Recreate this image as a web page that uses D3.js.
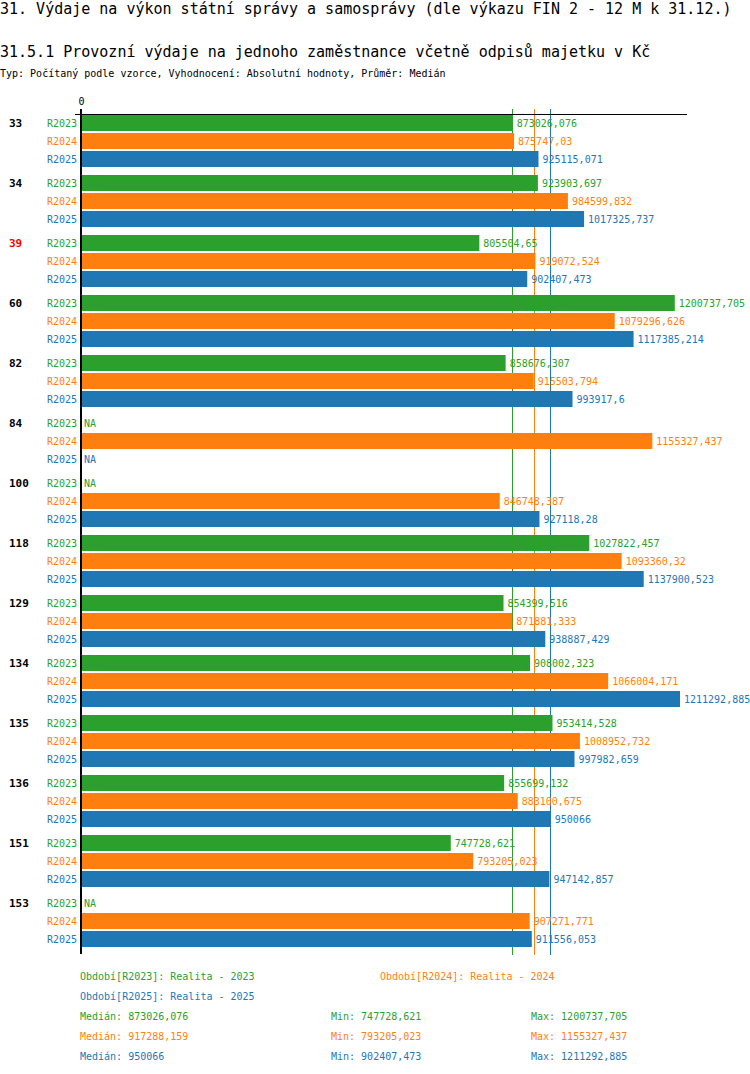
<!DOCTYPE html>
<html>
<head>
<meta charset="utf-8">
<script src="https://cdn.jsdelivr.net/npm/d3@7"></script>
<style>
  html, body { margin: 0; padding: 0; background: #fff; }
  svg { display: block; }
  text { font-family: "DejaVu Sans Mono", "Liberation Mono", monospace; }
</style>
</head>
<body>
<svg id="chart" width="750" height="1074"></svg>
<script>
// ---- data ----
const groups = ["33", "34", "39", "60", "82", "84", "100", "118", "129", "134", "135", "136", "151", "153"];
const highlighted = ["39"];
const seriesKeys = ["R2023", "R2024", "R2025"];
const seriesNames = ["Realita - 2023", "Realita - 2024", "Realita - 2025"];
const seriesColors = ["#2ca02c", "#ff7f0e", "#1f77b4"];
const valuesR2023 = [873026.076, 923903.697, 805504.65, 1200737.705, 858676.307, null, null, 1027822.457, 854399.516, 908002.323, 953414.528, 855699.132, 747728.621, null];
const valuesR2024 = [875747.03, 984599.832, 919072.524, 1079296.626, 915503.794, 1155327.437, 846748.387, 1093360.32, 871881.333, 1066004.171, 1008952.732, 883100.675, 793205.023, 907271.771];
const valuesR2025 = [925115.071, 1017325.737, 902407.473, 1117385.214, 993917.6, null, 927118.28, 1137900.523, 938887.429, 1211292.885, 997982.659, 950066, 947142.857, 911556.053];
const axisTicks = [0];

const title = "31. Výdaje na výkon státní správy a samosprávy (dle výkazu FIN 2 - 12 M k 31.12.)";
const subtitle = "31.5.1 Provozní výdaje na jednoho zaměstnance včetně odpisů majetku v Kč";
const typeLine = "Typ: Počítaný podle vzorce, Vyhodnocení: Absolutní hodnoty, Průměr: Medián";

const seriesValues = [valuesR2023, valuesR2024, valuesR2025];
const fmt = v => String(+(+v).toFixed(3)).replace(".", ",");

// ---- layout ----
const svg = d3.select("#chart");
svg.append("rect").attr("width", 750).attr("height", 1074).attr("fill", "#fff");

const allVals = seriesValues.flat().filter(v => v != null);
const x = d3.scaleLinear().domain([0, d3.max(allVals) * 1.01]).range([81, 686]);
const yG = d3.scaleBand().domain(groups).range([115, 955]);
const yS = d3.scaleBand().domain(seriesKeys).range([0, 52]).paddingInner(1 / 9);

// titles
svg.append("text").attr("x", 0).attr("y", 14).attr("font-size", 15).attr("fill", "#000").text(title);
svg.append("text").attr("x", 0).attr("y", 57).attr("font-size", 15).attr("fill", "#000").text(subtitle);
svg.append("text").attr("x", 0).attr("y", 77).attr("font-size", 10).attr("fill", "#000").text(typeLine);

// median lines (behind bars)
const stats = seriesValues.map(vals => {
  const v = vals.filter(d => d != null);
  return { median: d3.median(v), min: d3.min(v), max: d3.max(v) };
});
svg.append("g").selectAll("rect").data(stats).join("rect")
  .attr("x", d => Math.floor(x(d.median)))
  .attr("width", 1)
  .attr("y", 109).attr("height", 846)
  .attr("shape-rendering", "crispEdges")
  .style("fill", (d, i) => seriesColors[i]);

// top axis
const topAxis = svg.append("g").attr("transform", "translate(0,114)")
  .call(d3.axisTop(x).tickValues(axisTicks).tickSize(5).tickSizeOuter(0).tickFormat(d3.format("d")));
topAxis.select(".domain").attr("stroke", "#000").attr("shape-rendering", "crispEdges");
topAxis.selectAll(".tick line").attr("stroke", "#000");
topAxis.selectAll(".tick text").attr("font-family", "DejaVu Sans Mono, monospace").attr("font-size", 10).attr("fill", "#000").attr("dy", "-0.1em");
svg.append("line").attr("x1", x(0) - 6).attr("x2", x(0)).attr("y1", 114.5).attr("y2", 114.5)
  .attr("stroke", "#000").attr("shape-rendering", "crispEdges");

// bars
const barData = [];
groups.forEach((g, gi) => {
  seriesKeys.forEach((s, si) => {
    barData.push({ g, s, si, v: seriesValues[si][gi] });
  });
});

const bars = svg.append("g");
bars.selectAll("rect").data(barData.filter(d => d.v != null)).join("rect")
  .attr("x", x(0))
  .attr("y", d => yG(d.g) + yS(d.s))
  .attr("width", d => x(d.v) - x(0))
  .attr("height", yS.bandwidth())
  .attr("fill", d => seriesColors[d.si]);

// left axis line
svg.append("line").attr("x1", x(0)).attr("x2", x(0)).attr("y1", 109).attr("y2", 954)
  .attr("stroke", "#000").attr("stroke-width", 2);

// value labels
svg.append("g").selectAll("text").data(barData).join("text")
  .attr("x", d => d.v != null ? x(d.v) + 4 : x(0) + 3)
  .attr("y", d => yG(d.g) + yS(d.s) + yS.bandwidth() / 2)
  .attr("dy", "0.36em")
  .attr("font-size", 10)
  .attr("fill", d => seriesColors[d.si])
  .text(d => d.v != null ? fmt(d.v) : "NA");

// series labels
svg.append("g").selectAll("text").data(barData).join("text")
  .attr("x", 77)
  .attr("y", d => yG(d.g) + yS(d.s) + yS.bandwidth() / 2)
  .attr("dy", "0.36em")
  .attr("text-anchor", "end")
  .attr("font-size", 10)
  .attr("fill", d => seriesColors[d.si])
  .text(d => d.s);

// group labels
svg.append("g").selectAll("text").data(groups).join("text")
  .attr("x", 9)
  .attr("y", g => yG(g) + yS(seriesKeys[0]) + yS.bandwidth() / 2)
  .attr("dy", "0.36em")
  .attr("font-size", 11)
  .attr("font-weight", "bold")
  .attr("fill", g => highlighted.includes(g) ? "#ff0000" : "#000")
  .text(g => g);

// legend
const legendPos = [[80, 980], [380, 980], [80, 1000]];
svg.append("g").selectAll("text").data(seriesKeys).join("text")
  .attr("x", (d, i) => legendPos[i][0]).attr("y", (d, i) => legendPos[i][1])
  .attr("font-size", 10).attr("fill", (d, i) => seriesColors[i])
  .text((d, i) => `Období[${d}]: ${seriesNames[i]}`);

const statRows = svg.append("g").selectAll("g").data(stats).join("g")
  .attr("transform", (d, i) => `translate(0,${1020 + i * 20})`)
  .attr("fill", (d, i) => seriesColors[i]);
statRows.append("text").attr("x", 80).attr("font-size", 10).text(d => `Medián: ${fmt(d.median)}`);
statRows.append("text").attr("x", 331).attr("font-size", 10).text(d => `Min: ${fmt(d.min)}`);
statRows.append("text").attr("x", 531).attr("font-size", 10).text(d => `Max: ${fmt(d.max)}`);
</script>
</body>
</html>
